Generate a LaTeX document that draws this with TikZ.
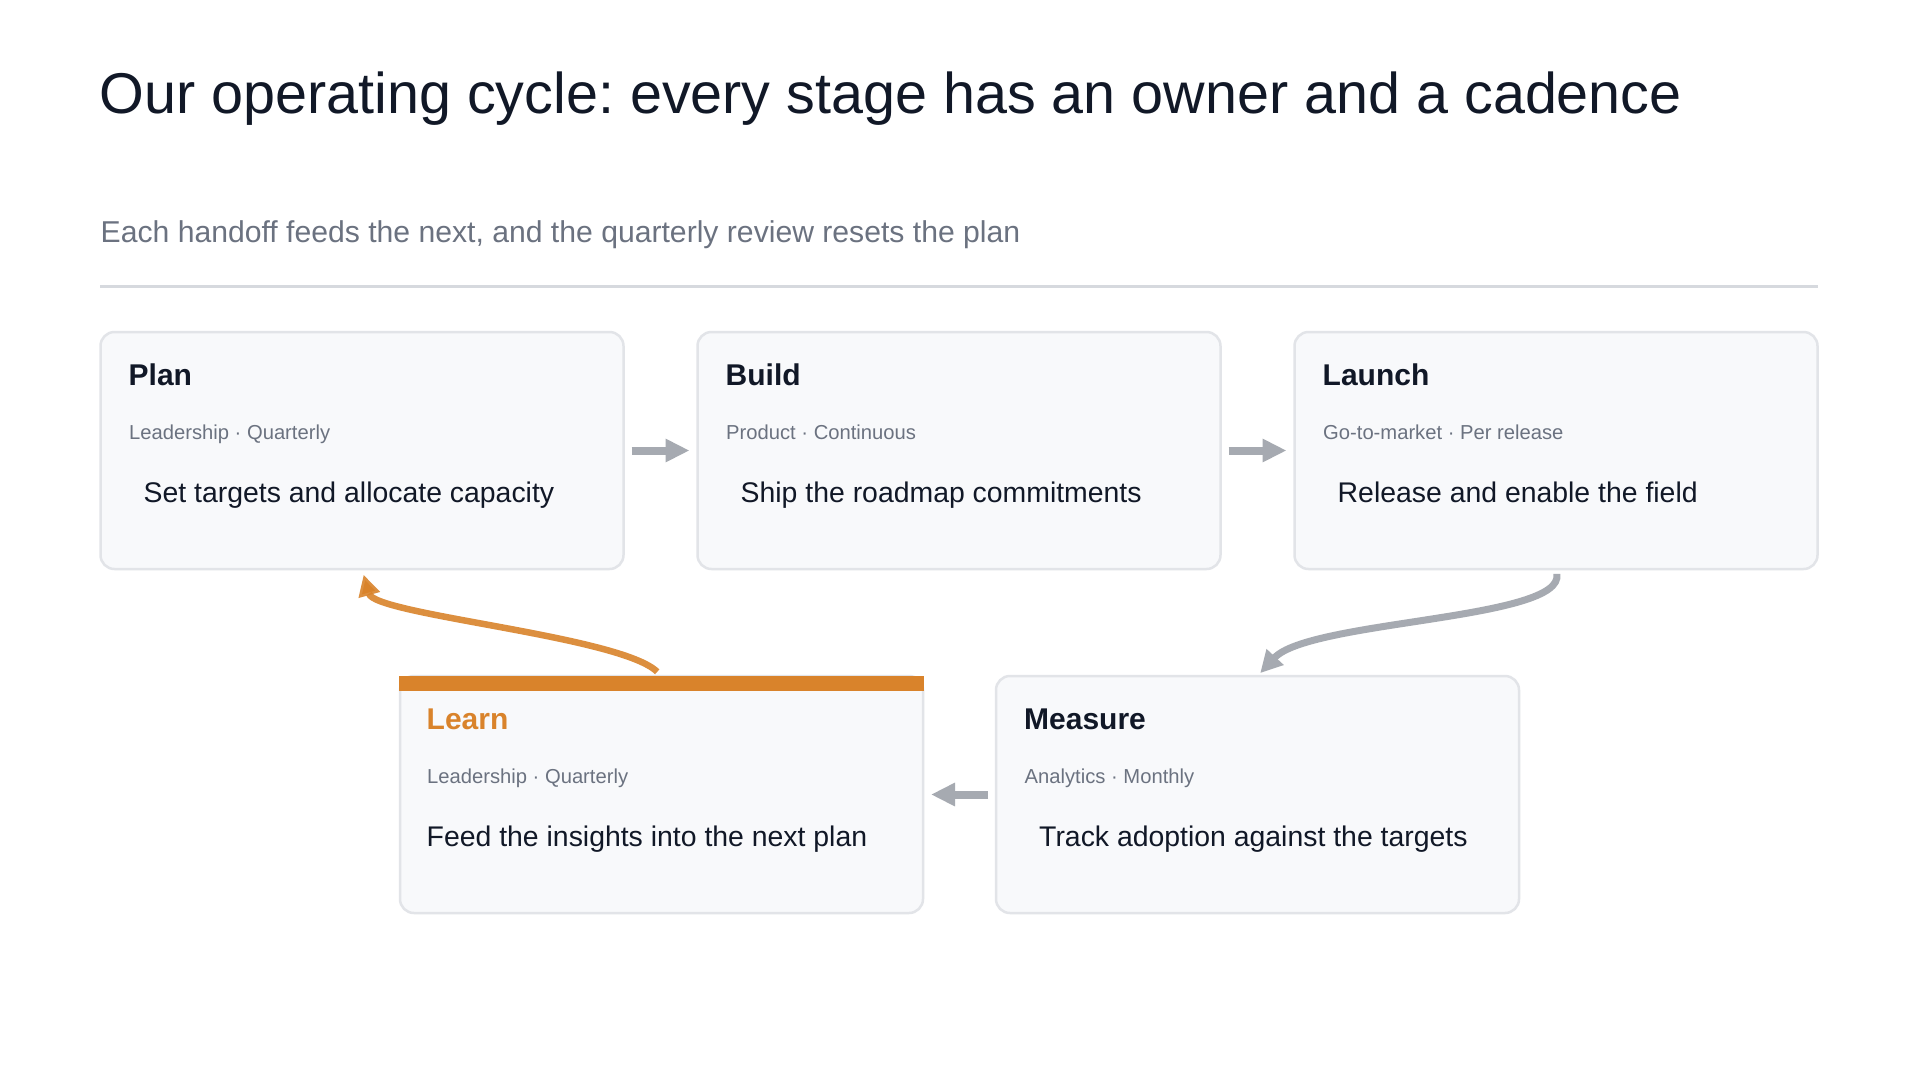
\documentclass[tikz,border=0pt]{standalone}
\usepackage{fontspec}
\setmainfont{Liberation Sans}
\usetikzlibrary{arrows.meta,calc}
\definecolor{ink}{HTML}{111827}
\definecolor{muted}{HTML}{6B7280}
\definecolor{rulecol}{HTML}{D6D9DE}
\definecolor{cardfill}{HTML}{F8F9FB}
\definecolor{cardline}{HTML}{E2E4E8}
\definecolor{flowgray}{HTML}{A6AAB1}
\definecolor{accent}{HTML}{D9832B}
\frenchspacing
\tikzset{
  card/.style={draw=cardline, line width=2.5pt, fill=cardfill, rounded corners=14pt,
    minimum width=523pt, minimum height=237pt, inner sep=0pt, outer sep=0pt},
  cardtitle/.style={anchor=base west, inner sep=0pt, text=ink,
    font=\fontsize{30}{36}\selectfont\bfseries},
  cardmeta/.style={anchor=base west, inner sep=0pt, text=muted,
    font=\fontsize{20.2}{24}\selectfont},
  cardbody/.style={anchor=base west, inner sep=0pt, text=ink,
    font=\fontsize{28.4}{34}\selectfont},
  flow/.style={draw=flowgray, line width=8pt,
    -{Triangle[length=24pt,width=22pt]}, shorten <=8pt, shorten >=8pt},
  flowcurve/.style={draw=flowgray, line width=7pt,
    -{Triangle[length=22pt,width=22pt]}},
  backcurve/.style={draw=accent, draw opacity=0.9, line width=6.5pt,
    -{Triangle[length=21pt,width=21pt]}},
}
\begin{document}
\begin{tikzpicture}[x=1pt,y=-1pt]
\useasboundingbox[fill=white] (0,0) rectangle (1919,1080);

% heading
\node[anchor=base west, inner sep=0pt, text=ink, font=\fontsize{57.5}{69}\selectfont]
  (title) at (99.5,113) {Our operating cycle: every stage has an owner and a cadence};
\node[anchor=base west, inner sep=0pt, text=muted, font=\fontsize{30.15}{36}\selectfont]
  (subtitle) at (100.5,242.5) {Each handoff feeds the next, and the quarterly review resets the plan};
\coordinate (ruleL) at (100,286.7);
\coordinate (ruleR) at (1818,286.7);
\draw[rulecol, line width=2.5pt] (ruleL) -- (ruleR);

% cards
\node[card] (plan) at (362,450.5) {};
\node[card] (build) at (959,450.5) {};
\node[card] (launch) at (1556,450.5) {};
\node[card] (learn) at (661.5,794.5) {};
\node[card] (measure) at (1257.5,794.5) {};
\fill[accent] ($(learn.north west)+(-1.25,-0.5)$) rectangle ($(learn.north east)+(1.25,15)$);

% card texts
\node[cardtitle] (plan-t) at ($(plan.north west)+(28,53)$) {Plan};
\node[cardmeta] (plan-m) at ($(plan.north west)+(28.5,107)$) {Leadership · Quarterly};
\node[cardbody] (plan-b) at ($(plan.north west)+(43,170)$) {Set targets and allocate capacity};

\node[cardtitle] (build-t) at ($(build.north west)+(28,53)$) {Build};
\node[cardmeta] (build-m) at ($(build.north west)+(28.5,107)$) {Product · Continuous};
\node[cardbody] (build-b) at ($(build.north west)+(43,170)$) {Ship the roadmap commitments};

\node[cardtitle] (launch-t) at ($(launch.north west)+(28,53)$) {Launch};
\node[cardmeta] (launch-m) at ($(launch.north west)+(28.5,107)$) {Go-to-market · Per release};
\node[cardbody] (launch-b) at ($(launch.north west)+(43,170)$) {Release and enable the field};

\node[cardtitle, text=accent] (learn-t) at ($(learn.north west)+(26.5,53.5)$) {Learn};
\node[cardmeta] (learn-m) at ($(learn.north west)+(27,107)$) {Leadership · Quarterly};
\node[cardbody] (learn-b) at ($(learn.north west)+(26.5,170)$) {Feed the insights into the next plan};

\node[cardtitle] (measure-t) at ($(measure.north west)+(28,53)$) {Measure};
\node[cardmeta] (measure-m) at ($(measure.north west)+(28.5,107)$) {Analytics · Monthly};
\node[cardbody] (measure-b) at ($(measure.north west)+(43,170)$) {Track adoption against the targets};

% connectors
\draw[flow] (plan.east) -- (build.west);
\draw[flow] (build.east) -- (launch.west);
\draw[flow] (measure.west) -- (learn.east);
\draw[flowcurve, shorten <=5pt, shorten >=4pt]
  (launch.south) .. controls +(9,51) and +(52,-56) .. (measure.north);
\draw[backcurve, shorten <=6pt, shorten >=6pt]
  (learn.north) .. controls +(-41,-40) and +(13,46) .. (plan.south);
\end{tikzpicture}
\end{document}
